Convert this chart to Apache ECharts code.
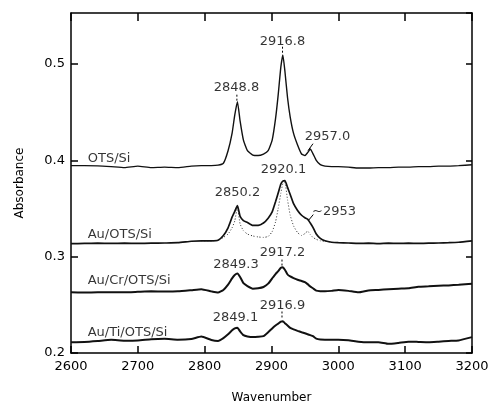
<!DOCTYPE html>
<html lang="en">
<head>
    <meta charset="UTF-8">
    <title>Absorbance spectra</title>
    <script src="https://cdn.jsdelivr.net/npm/echarts@6.0.0/dist/echarts.min.js"></script>
    <style>
        html, body { margin: 0; padding: 0; background: #fff; }
        #chart { width: 490px; height: 404px; }
    </style>
</head>
<body>
    <div id="chart"></div>
    <script>
        // wavenumber grid shared by all traces
        const wavenumber = [2600, 2620, 2640, 2660, 2680, 2700, 2720, 2740, 2760, 2780, 2795, 2810, 2820, 2828, 2835, 2841, 2845, 2849, 2853, 2858, 2864, 2872, 2880, 2888, 2895, 2901, 2906, 2910, 2914, 2917, 2920, 2924, 2928, 2933, 2939, 2945, 2950, 2954, 2958, 2962, 2967, 2973, 2980, 2990, 3000, 3015, 3030, 3045, 3060, 3075, 3090, 3105, 3120, 3135, 3150, 3165, 3180, 3200];

        const otsSi = [0.3945, 0.3945, 0.3943, 0.3935, 0.3925, 0.394, 0.3925, 0.393, 0.3925, 0.394, 0.3945, 0.3945, 0.395, 0.397, 0.410, 0.428, 0.447, 0.461, 0.441, 0.421, 0.410, 0.4055, 0.405, 0.4066, 0.410, 0.421, 0.443, 0.468, 0.497, 0.5095, 0.493, 0.465, 0.445, 0.428, 0.416, 0.4066, 0.405, 0.408, 0.4118, 0.407, 0.400, 0.3955, 0.394, 0.3935, 0.3935, 0.393, 0.392, 0.392, 0.3925, 0.3925, 0.393, 0.393, 0.3935, 0.3935, 0.394, 0.394, 0.3945, 0.3955];

        const auOtsSi = [0.3135, 0.3138, 0.314, 0.3138, 0.314, 0.3138, 0.314, 0.3142, 0.3145, 0.316, 0.3165, 0.3165, 0.317, 0.322, 0.330, 0.341, 0.347, 0.353, 0.342, 0.3375, 0.3355, 0.3325, 0.3325, 0.335, 0.340, 0.3465, 0.357, 0.366, 0.3755, 0.3785, 0.379, 0.372, 0.3645, 0.355, 0.348, 0.343, 0.3405, 0.339, 0.335, 0.3305, 0.3235, 0.319, 0.3165, 0.315, 0.3145, 0.3142, 0.3138, 0.314, 0.3135, 0.314, 0.3138, 0.314, 0.3138, 0.314, 0.3142, 0.3145, 0.315, 0.3165];

        // dotted trace drawn under the Au/OTS/Si peaks
        const auOtsSiDotted = [null, null, null, null, null, null, null, null, null, null, 0.3165, 0.3165, 0.317, 0.320, 0.3235, 0.330, 0.337, 0.351, 0.334, 0.327, 0.3235, 0.3215, 0.3205, 0.320, 0.321, 0.326, 0.336, 0.350, 0.366, 0.376, 0.377, 0.359, 0.343, 0.332, 0.325, 0.322, 0.324, 0.3265, 0.323, 0.320, 0.318, 0.3165, 0.316, 0.315, null, null, null, null, null, null, null, null, null, null, null, null, null, null];

        const auCrOtsSi = [0.263, 0.2628, 0.263, 0.2632, 0.263, 0.2635, 0.264, 0.2638, 0.264, 0.2652, 0.2662, 0.264, 0.2628, 0.2655, 0.271, 0.2775, 0.281, 0.2825, 0.279, 0.2725, 0.2695, 0.2668, 0.2672, 0.2685, 0.272, 0.2775, 0.282, 0.285, 0.2885, 0.289, 0.2865, 0.2815, 0.2795, 0.2778, 0.276, 0.2748, 0.2735, 0.2715, 0.269, 0.2672, 0.2648, 0.2642, 0.264, 0.2645, 0.2655, 0.2645, 0.263, 0.265, 0.2655, 0.2662, 0.2668, 0.2672, 0.2688, 0.2692, 0.2698, 0.2702, 0.2708, 0.2718];

        const auTiOtsSi = [0.2112, 0.2115, 0.2125, 0.2137, 0.2128, 0.213, 0.2142, 0.2147, 0.2137, 0.2145, 0.2171, 0.2135, 0.2125, 0.2155, 0.2195, 0.2235, 0.2255, 0.2262, 0.2225, 0.2185, 0.2172, 0.2165, 0.2168, 0.2175, 0.2215, 0.2255, 0.2285, 0.2305, 0.2325, 0.233, 0.231, 0.2285, 0.226, 0.2245, 0.223, 0.2216, 0.2205, 0.2195, 0.2185, 0.2175, 0.215, 0.214, 0.2138, 0.2137, 0.2137, 0.2132, 0.2118, 0.2112, 0.2112, 0.2095, 0.2105, 0.2118, 0.2115, 0.2112, 0.2118, 0.2125, 0.213, 0.2165];

        // trace names: [text, wavenumber, absorbance] of the label start
        const traceNames = [
            ["OTS/Si", 2625, 0.4023],
            ["Au/OTS/Si", 2625, 0.3229],
            ["Au/Cr/OTS/Si", 2625, 0.2752],
            ["Au/Ti/OTS/Si", 2625, 0.2213]
        ];

        // peak labels: [text, wavenumber, absorbance] of label centre
        const peakLabels = [
            ["2916.8", 2916.5, 0.5237],
            ["2848.8", 2847.6, 0.4754],
            ["2957.0", 2983.8, 0.4246],
            ["2920.1", 2918, 0.3904],
            ["2850.2", 2849.1, 0.3665],
            ["~2953", 2993.5, 0.3468],
            ["2917.2", 2916.5, 0.3043],
            ["2849.3", 2846.9, 0.2918],
            ["2916.9", 2916.5, 0.2493],
            ["2849.1", 2846, 0.2363]
        ];

        // leader lines: [x1, y1, x2, y2, dashed]
        const leaders = [
            [2916.5, 0.518, 2916.5, 0.5107, true],
            [2848.2, 0.4682, 2848.2, 0.4619, true],
            [2915.7, 0.297, 2915.7, 0.2908, true],
            [2915.7, 0.2431, 2915.7, 0.2358, true],
            [2954.6, 0.4101, 2962.1, 0.4173, false],
            [2955, 0.3374, 2962.5, 0.3437, false]
        ];

        const yTicks = [0.2, 0.3, 0.4, 0.5];

        const font = "DejaVu Sans";
        const pair = arr => wavenumber.map((w, i) => [w, arr[i]]);

        function trace(data, width) {
            return {
                type: "line",
                data: pair(data),
                showSymbol: false,
                smooth: 0.15,
                lineStyle: { color: "#111", width: width },
                z: 3
            };
        }

        const series = [
            trace(otsSi, 1.4),
            trace(auOtsSi, 1.7),
            {
                type: "line",
                data: pair(auOtsSiDotted),
                showSymbol: false,
                smooth: 0.15,
                connectNulls: false,
                lineStyle: { color: "#333", width: 1, type: [1, 2] },
                z: 2
            },
            trace(auCrOtsSi, 2),
            trace(auTiOtsSi, 2),
            {
                type: "scatter",
                symbolSize: 0,
                silent: true,
                data: peakLabels.map(p => ({ name: p[0], value: [p[1], p[2]] })),
                label: {
                    show: true, position: "inside", formatter: "{b}",
                    color: "#000", fontFamily: font, fontSize: 13,
                    align: "center", verticalAlign: "middle"
                },
                z: 5
            },
            {
                type: "scatter",
                symbolSize: 0,
                silent: true,
                data: traceNames.map(p => ({ name: p[0], value: [p[1], p[2]] })),
                label: {
                    show: true, position: "inside", formatter: "{b}",
                    color: "#000", fontFamily: font, fontSize: 13,
                    align: "left", verticalAlign: "middle"
                },
                z: 5
            }
        ];

        leaders.forEach(l => {
            series.push({
                type: "line",
                data: [[l[0], l[1]], [l[2], l[3]]],
                showSymbol: false,
                silent: true,
                lineStyle: { color: "#000", width: 1, type: l[4] ? [2, 2] : "solid" },
                z: 4
            });
        });

        const axisLine = { show: true, onZero: false, lineStyle: { color: "#000", width: 1.5 } };
        const tick = len => ({ show: true, inside: true, length: len, lineStyle: { color: "#000", width: 1.5 } });
        const yLabel = v => yTicks.some(t => Math.abs(t - v) < 1e-6) ? v.toFixed(1) : "";

        const chart = echarts.init(document.getElementById("chart"));
        chart.setOption({
            animation: false,
            backgroundColor: "#fff",
            grid: { left: 71, top: 13, width: 401, height: 340, outerBoundsMode: "none" },
            xAxis: [
                {
                    type: "value", position: "bottom", min: 2600, max: 3200, interval: 100,
                    axisLine: axisLine, axisTick: tick(7), splitLine: { show: false },
                    axisLabel: { color: "#000", fontFamily: font, fontSize: 13, margin: 7, formatter: v => String(v) },
                    name: "Wavenumber", nameLocation: "middle", nameGap: 39,
                    nameTextStyle: { color: "#000", fontFamily: font, fontSize: 12 }
                },
                {
                    type: "value", position: "top", min: 2600, max: 3200, interval: 100,
                    axisLine: axisLine, axisTick: tick(8), splitLine: { show: false },
                    axisLabel: { show: false }
                }
            ],
            yAxis: [
                {
                    type: "value", position: "left", min: 0.2, max: 0.553, interval: 0.1,
                    axisLine: axisLine, axisTick: tick(7), splitLine: { show: false },
                    axisLabel: { color: "#000", fontFamily: font, fontSize: 13, margin: 6, formatter: yLabel, showMaxLabel: false },
                    name: "Absorbance", nameLocation: "middle", nameGap: 45, nameRotate: 90,
                    nameTextStyle: { color: "#000", fontFamily: font, fontSize: 12 }
                },
                {
                    type: "value", position: "right", min: 0.2, max: 0.553, interval: 0.1,
                    axisLine: axisLine, axisTick: tick(6), splitLine: { show: false },
                    axisLabel: { show: false }
                }
            ],
            series: series
        });
    </script>
</body>
</html>
